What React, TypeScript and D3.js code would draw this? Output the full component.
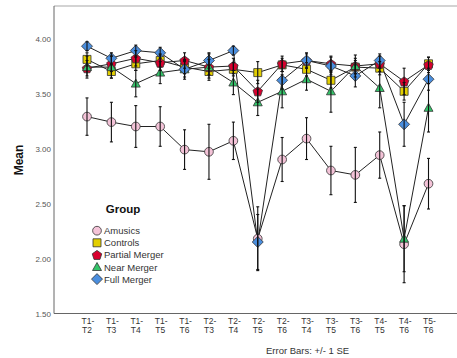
import React from "react";
import * as d3 from "d3";

const categories = [
  "T1-T2", "T1-T3", "T1-T4", "T1-T5", "T1-T6", "T2-T3", "T2-T4", "T2-T5",
  "T2-T6", "T3-T4", "T3-T5", "T3-T6", "T4-T5", "T4-T6", "T5-T6",
];

const groupNames = ["Amusics", "Controls", "Partial Merger", "Near Merger", "Full Merger"];

const amusicsMean = [3.29, 3.24, 3.2, 3.2, 2.99, 2.97, 3.07, 2.18, 2.9, 3.09, 2.8, 2.76, 2.94, 2.13, 2.68];
const amusicsSE = [0.17, 0.18, 0.19, 0.18, 0.18, 0.25, 0.17, 0.29, 0.2, 0.19, 0.22, 0.25, 0.21, 0.35, 0.23];

const controlsMean = [3.81, 3.7, 3.77, 3.8, 3.74, 3.7, 3.72, 3.69, 3.76, 3.72, 3.62, 3.74, 3.73, 3.52, 3.77];
const controlsSE = [0.06, 0.06, 0.06, 0.06, 0.06, 0.06, 0.06, 0.1, 0.06, 0.06, 0.07, 0.06, 0.06, 0.08, 0.06];

const partialMean = [3.73, 3.77, 3.82, 3.78, 3.8, 3.74, 3.75, 3.52, 3.77, 3.8, 3.77, 3.75, 3.77, 3.61, 3.76];
const partialSE = [0.07, 0.07, 0.07, 0.07, 0.07, 0.07, 0.07, 0.1, 0.07, 0.07, 0.07, 0.07, 0.07, 0.12, 0.07];

const nearMean = [3.74, 3.74, 3.59, 3.69, 3.72, 3.74, 3.6, 3.42, 3.52, 3.63, 3.52, 3.75, 3.55, 2.18, 3.37];
const nearSE = [0.1, 0.1, 0.12, 0.1, 0.09, 0.12, 0.11, 0.12, 0.15, 0.1, 0.19, 0.1, 0.18, 0.3, 0.22];

const fullMean = [3.93, 3.82, 3.89, 3.87, 3.72, 3.8, 3.89, 2.15, 3.62, 3.8, 3.75, 3.66, 3.8, 3.22, 3.63];
const fullSE = [0.04, 0.05, 0.05, 0.05, 0.07, 0.07, 0.04, 0.25, 0.08, 0.06, 0.08, 0.1, 0.06, 0.2, 0.1];

const yTicks = [1.5, 2.0, 2.5, 3.0, 3.5, 4.0];

const series = [
  { name: groupNames[0], mean: amusicsMean, se: amusicsSE, color: "#f4c3d8", shape: "circle" },
  { name: groupNames[1], mean: controlsMean, se: controlsSE, color: "#e3cf00", shape: "square" },
  { name: groupNames[2], mean: partialMean, se: partialSE, color: "#d8002e", shape: "pentagon" },
  { name: groupNames[3], mean: nearMean, se: nearSE, color: "#34c56a", shape: "triangle" },
  { name: groupNames[4], mean: fullMean, se: fullSE, color: "#4a8ede", shape: "diamond" },
];

const font = "'Liberation Sans', Arial, sans-serif";

function markerPath(shape: string): string {
  if (shape === "circle") return d3.symbol(d3.symbolCircle, 60)()!;
  if (shape === "square") return "M-4,-4H4V4H-4Z";
  if (shape === "diamond") return "M0,-5.5L5.5,0L0,5.5L-5.5,0Z";
  if (shape === "triangle") return "M0,-4.5L4.5,3.5L-4.5,3.5Z";
  // pentagon, point up
  const r = 5;
  const pts = d3.range(5).map((i) => {
    const a = -Math.PI / 2 + (i * 2 * Math.PI) / 5;
    return [r * Math.cos(a), r * Math.sin(a) + 0.5];
  });
  return "M" + pts.map((p) => p.join(",")).join("L") + "Z";
}

export default function App() {
  const width = 457;
  const height = 358;
  const left = 54;
  const top = 6;
  const bottom = 313.5;

  const x = d3.scalePoint<string>().domain(categories).range([87, 428.5]);
  const y = d3.scaleLinear().domain([1.5, 4]).range([bottom, 38.5]);

  const line = d3
    .line<number>()
    .x((_, i) => x(categories[i])!)
    .y((d) => y(d));

  return (
    <svg
      width={width}
      height={height}
      style={{ position: "absolute", left: 0, top: 0, background: "#fff" }}
      fontFamily={font}
    >
      {/* frame */}
      <line x1={left} x2={width} y1={top} y2={top} stroke="#c4c4c4" strokeWidth={1.5} />
      <line x1={left} x2={left} y1={top} y2={bottom} stroke="#666" strokeWidth={1} />
      <line x1={left} x2={width} y1={bottom} y2={bottom} stroke="#666" strokeWidth={1} />

      {/* y ticks */}
      {yTicks.map((t) => (
        <text key={t} x={51} y={y(t) + 3} fontSize={8} fill="#555" textAnchor="end">
          {t.toFixed(2)}
        </text>
      ))}
      <text
        transform={`translate(23,160) rotate(-90)`}
        textAnchor="middle"
        fontSize={12}
        fontWeight="bold"
        fill="#111"
      >
        Mean
      </text>

      {/* x ticks */}
      {categories.map((c) => {
        const [a, b] = c.split("-");
        return (
          <text key={c} x={x(c)!} textAnchor="middle" fontSize={8.5} fill="#333">
            <tspan x={x(c)! + 1} y={323.5}>{a}-</tspan>
            <tspan x={x(c)!} y={333}>{b}</tspan>
          </text>
        );
      })}
      <text x={266} y={354} fontSize={9.5} fill="#333">
        Error Bars: +/- 1 SE
      </text>

      {/* lines */}
      {series.map((s) => (
        <path key={s.name} d={line(s.mean)!} fill="none" stroke="#222" strokeWidth={1} />
      ))}

      {/* markers */}
      {series.map((s) =>
        s.mean.map((v, i) => (
          <path
            key={s.name + i}
            d={markerPath(s.shape)}
            transform={`translate(${x(categories[i])},${y(v)})`}
            fill={s.color}
            stroke="#333"
            strokeWidth={0.8}
          />
        ))
      )}

      {/* error bars */}
      {series.map((s) =>
        s.mean.map((v, i) => {
          const cx = x(categories[i])!;
          const y1 = y(v + s.se[i]);
          const y2 = y(v - s.se[i]);
          return (
            <g key={s.name + "e" + i} stroke="#111" strokeWidth={1.1}>
              <line x1={cx} x2={cx} y1={y1} y2={y2} />
              <line x1={cx - 1.5} x2={cx + 1.5} y1={y1} y2={y1} />
              <line x1={cx - 1.5} x2={cx + 1.5} y1={y2} y2={y2} />
            </g>
          );
        })
      )}

      {/* legend */}
      <text x={123} y={213} textAnchor="middle" fontSize={11.5} fontWeight="bold" fill="#111">
        Group
      </text>
      {series.map((s, i) => {
        const ly = 230.7 + i * 12.1;
        return (
          <g key={"leg" + s.name}>
            <path
              d={markerPath(s.shape)}
              transform={`translate(97,${ly})`}
              fill={s.color}
              stroke="#333"
              strokeWidth={0.8}
            />
            <text x={104} y={ly + 3.5} fontSize={9.5} fill="#333">
              {s.name}
            </text>
          </g>
        );
      })}
    </svg>
  );
}
